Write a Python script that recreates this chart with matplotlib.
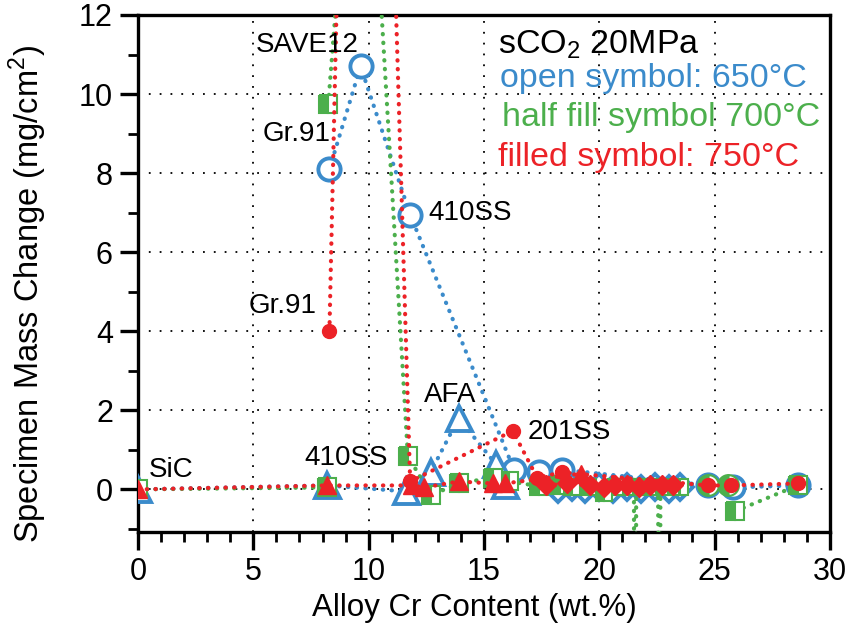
import matplotlib
matplotlib.use("Agg")
import matplotlib.pyplot as plt
from matplotlib.ticker import MultipleLocator

plt.rcParams["font.family"] = ["Liberation Sans", "DejaVu Sans"]
plt.rcParams["mathtext.fontset"] = "custom"
plt.rcParams["mathtext.rm"] = "Liberation Sans"

# ---- dados (Cr em wt.%, ganho de massa em mg/cm2)
# 650°C - símbolos abertos
fm650_x = [8.3, 9.65, 11.8, 16.3, 17.4, 18.4, 24.7, 25.8, 28.6]
fm650_y = [8.1, 10.7, 6.95, 0.5, 0.45, 0.5, 0.1, 0.05, 0.1]
aus650_x = [0, 8.2, 11.6, 12.7, 13.9, 15.5, 15.9]
aus650_y = [0, 0.1, -0.05, 0.45, 1.8, 0.65, 0.1]
ni650_x = [18.2, 18.8, 19.4, 20.0, 20.6, 21.2, 21.8, 22.4, 23.0, 23.5]
ni650_y = [0.0, 0.05, 0.0, 0.05, 0.0, 0.05, 0.0, 0.05, 0.0, 0.05]

# 700°C - símbolos meio preenchidos
fm700_x = [8.25, 9.7, 11.7, 12.7, 13.9, 15.4, 16.1, 17.4, 18.3]
fm700_y = [9.75, 20.5, 0.85, -0.15, 0.15, 0.3, 0.2, 0.08, 0.1]
low700_x = [0, 8.2]
low700_y = [0, 0.05]
ni700_x = [18.8, 19.5, 20.2, 20.7, 21.1, 21.5, 21.55, 21.6, 22.1, 22.55, 22.6, 22.65, 23.1, 23.5]
ni700_y = [0.05, 0.05, -0.08, 0.05, 0.05, 0.05, -15, 0.05, 0.05, 0.05, -15, 0.05, 0.05, 0.05]
hi700_x = [24.7, 25.6]
hi700_y = [0.1, 0.1]
tail700_x = [25.9, 28.6]
tail700_y = [-0.55, 0.1]

# 750°C - símbolos cheios
fm750_x = [8.3, 9.7, 11.8, 16.25, 17.3, 18.4, 24.7, 25.7, 28.6]
fm750_y = [4.0, 41, 0.2, 1.48, 0.3, 0.43, 0.1, 0.1, 0.15]
aus750_x = [0, 8.2, 11.9, 12.4, 13.9, 15.4, 15.9, 19.2]
aus750_y = [0, 0.1, 0.1, 0.05, 0.2, 0.15, 0.15, 0.4]
ni750_x = [17.7, 18.6, 19.6, 20.2, 20.7, 21.2, 21.7, 22.2, 22.7, 23.2]
ni750_y = [0.1, 0.15, 0.1, 0.05, 0.1, 0.1, 0.05, 0.1, 0.1, 0.1]

azul = "#3b8bcb"
verde = "#4caf4c"
vermelho = "#ec2227"

rotulos = ["SAVE12", "Gr.91", "410SS", "Gr.91", "AFA", "201SS", "410SS", "SiC"]
rotulos_x = [5.1, 5.4, 12.6, 4.8, 12.4, 16.9, 7.2, 0.45]
rotulos_y = [11.25, 9.0, 7.0, 4.65, 2.4, 1.45, 0.8, 0.5]

fig = plt.figure(figsize=(8.49, 6.38), dpi=100)
ax = fig.add_axes([0.1625, 0.166, 0.8151, 0.8105])

pontilhado = dict(linestyle=(0, (0.1, 2.0)), dash_capstyle="round", linewidth=3.0)


def serie(x, y, cor, marcador, tam, estilo, z, **kw):
    if estilo == "aberto":
        mk = dict(mfc="white", mec=cor, mew=2.8)
    elif estilo == "meio":
        mk = dict(mfc=cor, mec=cor, mew=1.5, fillstyle="left", markerfacecoloralt="white")
    else:
        mk = dict(mfc=cor, mec=cor, mew=1.0)
    ax.plot(x, y, color=cor, marker=marcador, ms=tam, zorder=z, **pontilhado, **mk, **kw)


# 650°C
serie(fm650_x, fm650_y, azul, "o", 16, "aberto", 3)
serie(aus650_x, aus650_y, azul, "^", 18, "aberto", 3)
serie(ni650_x, ni650_y, azul, "D", 13, "aberto", 3)
# 700°C
serie(fm700_x, fm700_y, verde, "s", 12.5, "meio", 4)
serie(low700_x, low700_y, verde, "s", 12.5, "meio", 4)
serie(ni700_x, ni700_y, verde, "s", 12, "meio", 4)
serie(hi700_x, hi700_y, verde, "o", 15, "meio", 4)
serie(tail700_x, tail700_y, verde, "s", 12.5, "meio", 4)
# 750°C
serie(fm750_x, fm750_y, vermelho, "o", 10, "cheio", 5)
serie(aus750_x, aus750_y, vermelho, "^", 13, "cheio", 5)
serie(ni750_x, ni750_y, vermelho, "D", 10, "cheio", 5)

ax.set_xlim(0, 30)
ax.set_ylim(-1.08, 12)
ax.xaxis.set_major_locator(MultipleLocator(5))
ax.xaxis.set_minor_locator(MultipleLocator(1))
ax.yaxis.set_major_locator(MultipleLocator(2))
ax.yaxis.set_minor_locator(MultipleLocator(1))
ax.tick_params(which="major", direction="out", length=13, width=2.4, labelsize=22, pad=5)
ax.tick_params(which="minor", direction="out", length=7, width=2.0)
ax.tick_params(top=False, right=False, which="both")
for lado in ax.spines.values():
    lado.set_linewidth(2.4)
ax.grid(True, which="major", color="black", linestyle=(0, (1, 5)), linewidth=1.3)
ax.set_axisbelow(True)

ax.set_xlabel("Alloy Cr Content (wt.%)", fontsize=22.5)
ax.set_ylabel("Specimen Mass Change (mg/cm$^2$)", fontsize=23.5)
ax.xaxis.set_label_coords(0.486, -0.118)
ax.yaxis.set_label_coords(-0.128, 0.46)

for t, x, y in zip(rotulos, rotulos_x, rotulos_y):
    ax.text(x, y, t, fontsize=20, va="center", zorder=6)

ax.text(15.6, 11.25, "sCO$_2$ 20MPa", fontsize=24.5, va="center", color="black", zorder=6)
ax.text(15.7, 10.4, "open symbol: 650°C", fontsize=24.5, va="center", color=azul, zorder=6)
ax.text(15.8, 9.4, "half fill symbol 700°C", fontsize=24.5, va="center", color=verde, zorder=6)
ax.text(15.6, 8.4, "filled symbol: 750°C", fontsize=24.5, va="center", color=vermelho, zorder=6)

fig.savefig("out.png", dpi=100)
